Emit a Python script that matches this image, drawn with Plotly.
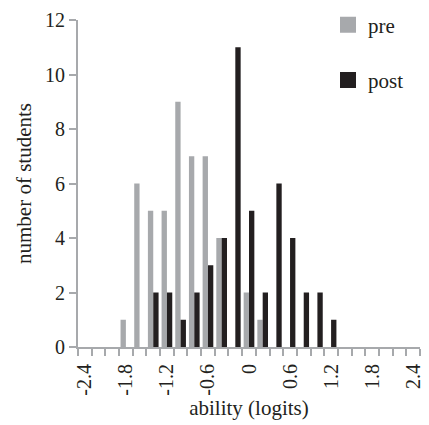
import plotly.graph_objects as go

# categories (ability in logits), bins of 0.2
ability = [round(-2.4 + 0.2 * i, 1) for i in range(25)]
pre_counts = {-1.8: 1, -1.6: 6, -1.4: 5, -1.2: 5, -1.0: 9, -0.8: 7, -0.6: 7,
              -0.4: 4, 0.0: 2, 0.2: 1}
post_counts = {-1.4: 2, -1.2: 2, -1.0: 1, -0.8: 2, -0.6: 3, -0.4: 4, -0.2: 11,
               0.0: 5, 0.2: 2, 0.4: 6, 0.6: 4, 0.8: 2, 1.0: 2, 1.2: 1}
pre = [pre_counts.get(a, 0) for a in ability]
post = [post_counts.get(a, 0) for a in ability]
tick_values = [-2.4, -1.8, -1.2, -0.6, 0, 0.6, 1.2, 1.8, 2.4]
tick_labels = ["-2.4", "-1.8", "-1.2", "-0.6", "0", "0.6", "1.2", "1.8", "2.4"]
y_ticks = [0, 2, 4, 6, 8, 10, 12]

GRAY = "#a7a9ac"
BLACK = "#231f20"
AXIS = "#a7a9ac"
FONT = "Liberation Serif"

fig = go.Figure()
fig.add_trace(go.Bar(x=ability, y=pre, name="pre", marker_color=GRAY,
                     marker_line_width=0, legendgroup="a", showlegend=False))
fig.add_trace(go.Bar(x=ability, y=post, name="post", marker_color=BLACK,
                     marker_line_width=0, legendgroup="b", showlegend=False))
# legend entries (larger square swatches)
fig.add_trace(go.Scatter(x=[None], y=[None], mode="markers", name="pre",
                         legendgroup="a",
                         marker=dict(symbol="square", size=17, color=GRAY)))
fig.add_trace(go.Scatter(x=[None], y=[None], mode="markers", name="post",
                         legendgroup="b",
                         marker=dict(symbol="square", size=17, color=BLACK)))

fig.update_layout(
    width=429, height=425,
    margin=dict(l=78, r=5, t=20, b=78),
    paper_bgcolor="white", plot_bgcolor="white",
    barmode="group", bargap=0.22, bargroupgap=0,
    font=dict(family=FONT, size=20, color=BLACK),
    showlegend=True,
    legend=dict(x=0.731, y=1.047, xanchor="left", yanchor="top",
                bgcolor="rgba(0,0,0,0)", tracegroupgap=25, itemwidth=30,
                font=dict(family=FONT, size=21, color=BLACK)),
    xaxis=dict(
        range=[-2.5, 2.5], tickmode="array", tickvals=tick_values,
        ticktext=tick_labels, tickangle=-90,
        ticks="outside", ticklen=7, tickcolor="rgba(0,0,0,0)",
        tickfont=dict(family=FONT, size=20, color=BLACK),
        showline=True, linecolor=AXIS, linewidth=2,
        showgrid=False, zeroline=False,
        minor=dict(ticks="outside", ticklen=7, tickwidth=1.5, tickcolor=AXIS,
                   tick0=-2.5, dtick=0.2, showgrid=False),
        title=dict(text="ability (logits)", font=dict(family=FONT, size=21, color=BLACK),
                   standoff=6),
    ),
    yaxis=dict(
        range=[0, 12], tickmode="array", tickvals=y_ticks,
        ticks="outside", ticklen=7, tickwidth=1.5, tickcolor=AXIS,
        tickfont=dict(family=FONT, size=20, color=BLACK),
        showline=True, linecolor=AXIS, linewidth=2,
        showgrid=False, zeroline=False,
        title=dict(text="number of students", font=dict(family=FONT, size=21, color=BLACK),
                   standoff=8),
    ),
)

fig.write_html("out.html")
